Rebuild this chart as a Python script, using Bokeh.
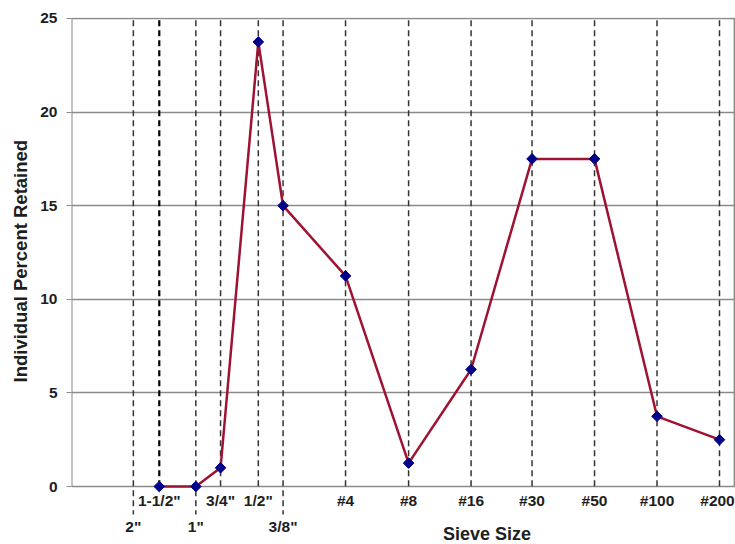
import numpy as np
from bokeh.plotting import figure
from bokeh.models import Range1d, FixedTicker, Title
from bokeh.core.properties import value
from bokeh.embed import file_html
from bokeh.resources import INLINE

# ---- data ----
sieve_labels = ['2"', '1-1/2"', '1"', '3/4"', '1/2"', '3/8"', '#4', '#8', '#16', '#30', '#50', '#100', '#200']
sieve_mm = [50.0, 37.5, 25.0, 19.0, 12.5, 9.5, 4.75, 2.36, 1.18, 0.6, 0.3, 0.15, 0.075]
label_row = [2, 1, 2, 1, 1, 2, 1, 1, 1, 1, 1, 1, 1]

data_sieve_mm = [37.5, 25.0, 19.0, 12.5, 9.5, 4.75, 2.36, 1.18, 0.6, 0.3, 0.15, 0.075]
pct_retained = [0.0, 0.0, 1.0, 23.75, 15.0, 11.25, 1.25, 6.25, 17.5, 17.5, 3.75, 2.5]

y_ticks = [0, 5, 10, 15, 20, 25]

FONT = "Liberation Sans"
TXT = "#1e1e1e"
GRID = "#8a8a8a"

# layout helpers (data units below the zero line)
row_label_y = {1: -0.77, 2: -2.11}
row_line_bottom = {1: 0.0, 2: -1.50}

p = figure(width=735, height=544, x_axis_type="log",
           x_range=Range1d(99.3, 0.0628), y_range=Range1d(-3.098, 25.053),
           output_backend="svg", toolbar_location=None,
           x_axis_location=None, y_axis_location="left",
           min_border_left=71, min_border_right=0, min_border_top=17, min_border_bottom=0)
p.outline_line_color = None
p.background_fill_color = "white"
p.border_fill_color = "white"

# y axis
yax = p.yaxis[0]
yax.ticker = FixedTicker(ticks=y_ticks)
yax.axis_line_color = None
yax.major_tick_out = 5
yax.major_tick_in = 0
yax.major_tick_line_color = GRID
yax.minor_tick_line_color = None
yax.major_label_standoff = 9
yax.major_label_text_font = FONT
yax.major_label_text_font_style = "bold"
yax.major_label_text_font_size = "15.5px"
yax.major_label_text_color = TXT

# y axis title (left side panel), aligned to the 0..25 part of the frame
p.add_layout(Title(text="Individual Percent Retained", align="left", offset=162,
                   text_font=FONT, text_font_style="bold", text_font_size="18.5px",
                   text_color=TXT, standoff=14), "left")

p.ygrid.ticker = FixedTicker(ticks=y_ticks)
p.ygrid.grid_line_color = GRID
p.ygrid.grid_line_width = 1.3
p.xgrid.visible = False

# plot-area left/right edges (0..25)
p.segment(x0=[99.3, 0.0636], y0=[0, 0], x1=[99.3, 0.0636], y1=[25, 25],
          line_color=GRID, line_width=[2, 1.5])

# vertical dashed sieve lines
bottoms = [row_line_bottom[r] for r in label_row]
colors = ["#000000" if l == '1-1/2"' else "#333333" for l in sieve_labels]
widths = [2.2 if l == '1-1/2"' else 1.5 for l in sieve_labels]
p.segment(x0=sieve_mm, y0=[24.9] * len(sieve_mm), x1=sieve_mm, y1=bottoms,
          line_color=colors, line_width=widths, line_dash="6 4")

# x labels
x_off = [0] * (len(sieve_labels) - 1) + [-2]
p.text(x=sieve_mm, y=[row_label_y[r] for r in label_row], text=sieve_labels,
       x_offset=x_off,
       text_font=value(FONT), text_font_style="bold", text_font_size="15.5px",
       text_color=TXT, text_align="center", text_baseline="middle")

# x axis title
p.text(x=[0.99], y=[-2.56], text=["Sieve Size"], text_font=value(FONT),
       text_font_style="bold", text_font_size="18px", text_color=TXT,
       text_align="center", text_baseline="middle")

# data
p.line(data_sieve_mm, pct_retained, line_color="#9E1232", line_width=2.5)
p.scatter(data_sieve_mm, pct_retained, marker="square", angle=np.pi / 4, size=7.5,
          fill_color="#00008B", line_color="#00008B")

open("out.html", "w").write(file_html(p, INLINE))
